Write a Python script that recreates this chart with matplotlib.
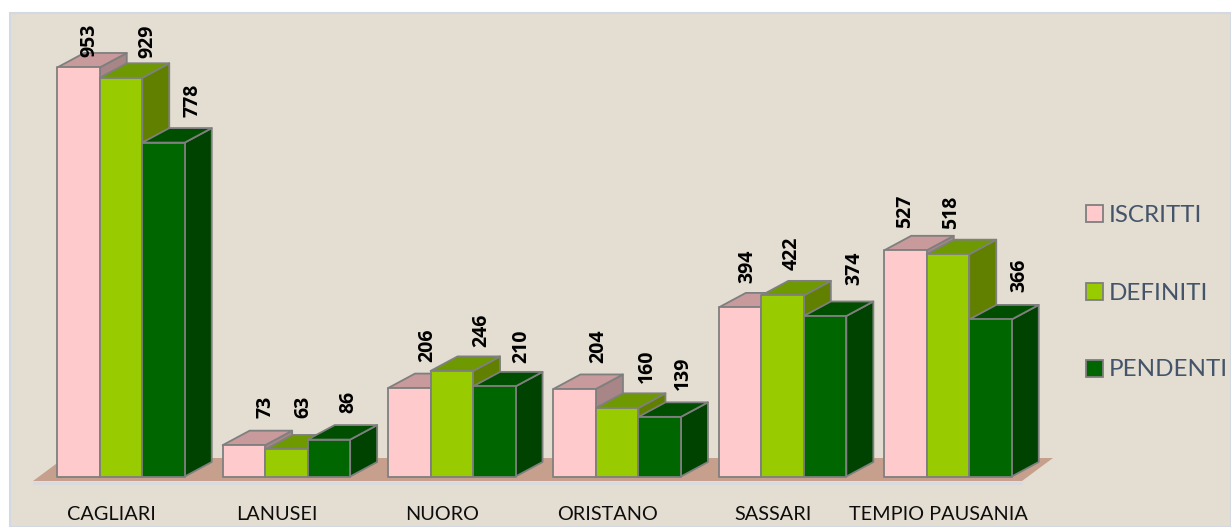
import matplotlib
matplotlib.use("Agg")
import matplotlib.pyplot as plt
from matplotlib.patches import Polygon, Rectangle

# ---------------- data ----------------
categories = ["CAGLIARI", "LANUSEI", "NUORO", "ORISTANO", "SASSARI", "TEMPIO PAUSANIA"]
series_names = ["ISCRITTI", "DEFINITI", "PENDENTI"]
iscritti = [953, 73, 206, 204, 394, 527]
definiti = [929, 63, 246, 160, 422, 518]
pendenti = [778, 86, 210, 139, 374, 366]
series_values = [iscritti, definiti, pendenti]

# ---------------- style / layout ----------------
W, H = 1231, 527
PX_CAT = 165.4          # pixels per category
PX_VAL = 0.4292         # pixels per value unit
BASE_PX = 476.5         # baseline y (from top) in pixels
CAT0_PX = 121.0         # x pixel of first category centre
BAR_W = 42.5 / PX_CAT
DX = 27.0 / PX_CAT
DY = 14.5 / PX_VAL

front_cols = ["#FFCACC", "#99CC00", "#006600"]
top_cols = ["#C99A9C", "#6E9900", "#004E00"]
side_cols = ["#A88587", "#628000", "#004300"]
edge_col = "#7F7F7F"

# label placement tweaks (pixels) : x offset from bar front centre, gap above back top
label_dx = [[11, 21.5, 18, 23.5, 7, 0],
            [26.5, 16.5, 29.5, 29.5, 9, 3],
            [29, 19, 26.5, 23.5, 29, 29]]
label_gap = [[-4.5, 13, 12, 11, 10, 8],
             [5, 17, 9, 10, 11, 11],
             [11, 12, 9, 12, 16, 13]]

fig = plt.figure(figsize=(W / 100, H / 100), dpi=100, facecolor="white")
# chart area background
fig.patches.append(Rectangle((10 / W, 0), 1 - 10 / W, (H - 13) / H, transform=fig.transFigure,
                             facecolor="#E4DDD1", edgecolor="#D3D9E2", lw=1.5, zorder=-5))

ax = fig.add_axes([0, 0, 1, 1])
ax.set_facecolor("none")
ax.set_xlim(-CAT0_PX / PX_CAT, (W - CAT0_PX) / PX_CAT)
ax.set_ylim(-(H - BASE_PX) / PX_VAL, BASE_PX / PX_VAL)
ax.axis("off")

def px2x(px):
    return (px - CAT0_PX) / PX_CAT

def px2y(py):
    return (BASE_PX - py) / PX_VAL

# floor
fx0, fx1 = px2x(33), px2x(1022)
fdx = 31 / PX_CAT
fy_front, fy_back = px2y(481), px2y(458)
ax.add_patch(Polygon([(fx0, fy_front), (fx1, fy_front), (fx1 + fdx, fy_back), (fx0 + fdx, fy_back)],
                     closed=True, facecolor="#C6A08C", edgecolor="none", zorder=1))
ax.plot([fx0, fx1], [px2y(483)] * 2, color="#D6DAE2", lw=1.8, zorder=1.5, solid_capstyle="butt")

lw = 1.3
z = 2
for i, cat in enumerate(categories):
    for j in range(3):
        v = series_values[j][i]
        x0 = i + (j - 1.5) * BAR_W
        x1 = x0 + BAR_W
        side = Polygon([(x1, 0), (x1 + DX, DY), (x1 + DX, v + DY), (x1, v)], closed=True,
                       facecolor=side_cols[j], edgecolor=edge_col, lw=lw, joinstyle="round", zorder=z)
        top = Polygon([(x0, v), (x1, v), (x1 + DX, v + DY), (x0 + DX, v + DY)], closed=True,
                      facecolor=top_cols[j], edgecolor=edge_col, lw=lw, joinstyle="round", zorder=z)
        front = Rectangle((x0, 0), BAR_W, v, facecolor=front_cols[j], edgecolor=edge_col,
                          lw=lw, joinstyle="round", zorder=z)
        ax.add_patch(side)
        ax.add_patch(top)
        ax.add_patch(front)
        z += 0.01
        xc = (x0 + x1) / 2 + label_dx[j][i] / PX_CAT
        yl = v + DY + label_gap[j][i] / PX_VAL
        ax.text(xc, yl, str(v), rotation=90, ha="center", va="bottom",
                fontsize=14, fontweight="bold", family=["Open Sans", "DejaVu Sans"],
                color="black", zorder=10)
    ax.text(i - 10 / PX_CAT, px2y(520), cat, ha="center", va="baseline",
            fontsize=14.3, family=["Lato", "DejaVu Sans"], color="#0D0D0D", zorder=10)

# legend (manual)
leg_y = [213, 291, 368]
for k, name in enumerate(series_names):
    yc = leg_y[k]
    fig.patches.append(Rectangle((1086 / W, (H - yc - 8.5) / H), 17 / W, 17 / H,
                                 transform=fig.transFigure, facecolor=front_cols[k],
                                 edgecolor=edge_col, lw=1.3, zorder=5))
    fig.text(1109 / W, (H - yc) / H, name, ha="left", va="center_baseline",
             fontsize=17.4, family=["Lato", "DejaVu Sans"], color="#44546A")

fig.savefig("out.png", dpi=100, facecolor="white")
